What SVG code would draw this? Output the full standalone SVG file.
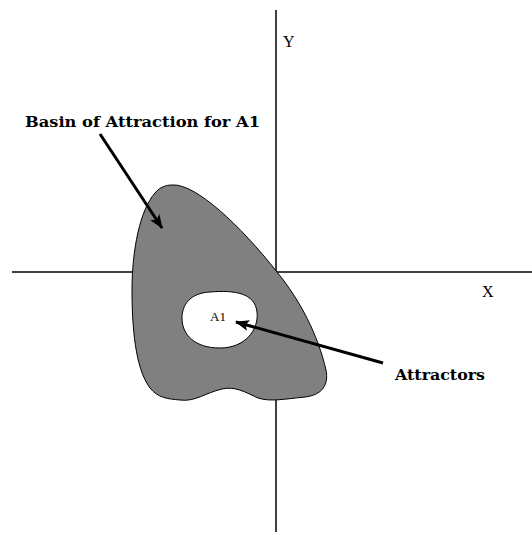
<svg xmlns="http://www.w3.org/2000/svg" width="532" height="535" viewBox="0 0 532 535">
<defs>
<marker id="ah" markerWidth="14" markerHeight="11" refX="13" refY="5.5" orient="auto" markerUnits="userSpaceOnUse" viewBox="0 0 14 11">
<path d="M0,0 L14,5.5 L0,11 L3,5.5 Z" fill="#000"/>
</marker>
</defs>
<style>
.ax{stroke:#000;stroke-width:1.5;fill:none}
.lbl{font-family:"Liberation Serif","DejaVu Serif",serif;fill:#000}
.b{font-family:"DejaVu Serif","Liberation Serif",serif;font-weight:bold;font-size:15px}
.arr{stroke:#000;stroke-width:3;fill:none}
</style>
<rect width="532" height="535" fill="#fff"/>
<g id="axes">
<line class="ax" x1="276" y1="10" x2="276" y2="532"/>
<line class="ax" x1="12" y1="272" x2="532" y2="272"/>
<text class="lbl" x="283" y="47" font-size="16">Y</text>
<text class="lbl" x="482" y="297" font-size="16">X</text>
</g>
<g id="basin">
<path d="M172,185 C195,183 240,225 277,272 C300,300 318,335 326,370 C329,385 322,395 305,397 C285,399 270,402 258,398 C245,392 235,386 222,389 C205,393 195,402 180,400 C168,399 158,398 150,388 C138,372 132,340 132,290 C132,250 140,210 155,193 C160,187 166,185 172,185 Z" fill="#808080" stroke="#000" stroke-width="1"/>
</g>
<g id="attractor">
<path d="M182,318 C182,305 190,293 210,292 C235,290 255,293 257,312 C259,330 245,348 220,348 C195,348 182,335 182,318 Z" fill="#fff" stroke="#000" stroke-width="1"/>
<text class="lbl" x="218" y="321" font-size="13" text-anchor="middle">A1</text>
</g>
<g id="labels">
<text class="lbl b" x="25" y="127" textLength="235" lengthAdjust="spacingAndGlyphs">Basin of Attraction for A1</text>
<text class="lbl b" x="395" y="380" textLength="90" lengthAdjust="spacingAndGlyphs">Attractors</text>
</g>
<g id="connectors">
<line class="arr" x1="100" y1="134" x2="162" y2="228" marker-end="url(#ah)"/>
<line class="arr" x1="383" y1="363" x2="236" y2="322" marker-end="url(#ah)"/>
</g>
</svg>
